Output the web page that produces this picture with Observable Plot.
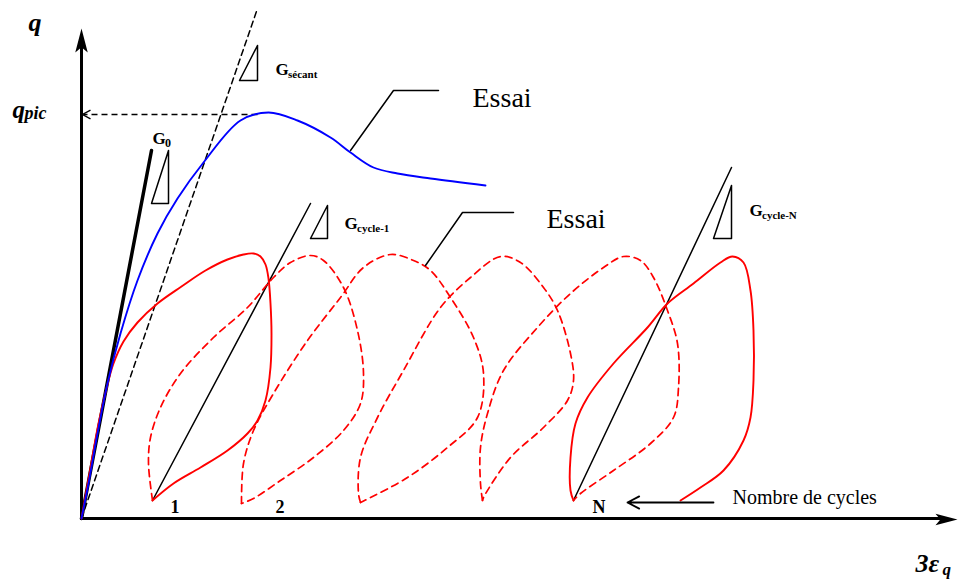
<!DOCTYPE html>
<html><head><meta charset="utf-8">
<script src="https://cdn.jsdelivr.net/npm/d3@7"></script>
<script src="https://cdn.jsdelivr.net/npm/@observablehq/plot@0.6"></script>
<style>body{margin:0;background:#fff} #chart svg{display:block}</style>
</head><body><div id="chart"></div>
<script>
// ---- data (x = 3·εq units, y = q units, origin at axes crossing) ----
const essaiMonotone = [[0,0],[7,35],[16,85],[26,135],[39,185],[56,238],[76,285],[96,320],[122,356],[159,398],[187,406],[216,398],[249,381],[269,366],[292,351],[316,345],[349,340],[404,333]];
const cycle1 = [[0,0],[8,45],[17,95],[25,130],[32,155],[42,177],[56,196],[76,215],[100,232],[124,248],[146,259],[162,264],[172,265],[179,262],[184,254],[187,240],[189,215],[190,185],[189,151],[184,118],[176,98],[166,85],[146,68],[119,51],[92,35],[71,18]];
const cycle2 = [[71,18],[67,55],[69,81],[79,111],[99,145],[132,181],[166,211],[192,241],[209,256],[229,263],[242,258],[262,231],[276,188],[282,145],[279,115],[262,88],[232,61],[199,38],[172,20],[160,15]];
const cycle3 = [[160,15],[162,55],[172,88],[192,125],[226,178],[259,221],[282,251],[309,264],[332,258],[349,248],[369,221],[392,181],[402,145],[396,101],[366,71],[326,41],[289,21],[279,16]];
const cycle4 = [[279,16],[277,25],[279,61],[296,101],[322,148],[359,211],[389,241],[419,262],[439,256],[462,231],[476,208],[489,165],[492,138],[486,118],[462,91],[429,61],[402,21],[401,18]];
const cycle5 = [[401,18],[399,35],[399,71],[406,105],[422,148],[456,191],[489,225],[522,251],[542,262],[559,258],[572,241],[586,208],[596,175],[597,131],[592,101],[569,75],[532,48],[499,25],[492,18]];
const cycleN = [[492,18],[489,28],[489,61],[494,95],[506,121],[532,155],[566,191],[586,215],[612,235],[639,256],[651,262],[662,256],[669,228],[672,188],[672,138],[669,101],[662,78],[642,48],[619,31],[599,18]];

const qPic = 404;
const lineG0 = [[0,0],[70,368]];
const lineSecant = [[0,0],[176,510]];
const lineCycle1 = [[71,18],[229,315]];
const lineCycleN = [[492,18],[650,351]];

const triG0 = [[87,368],[70,315],[87,315],[87,368]];
const triSecant = [[176,473],[158,438],[176,438],[176,473]];
const triCycle1 = [[246,313],[229,280],[246,280],[246,313]];
const triCycleN = [[650,333],[632,280],[650,280],[650,333]];

const leaderEssai1 = [[269,368],[312,428],[357,428]];
const leaderEssai2 = [[344,253],[381,306],[432,306]];
const essaiLabels = [{t:"Essai", x:391, y:412}, {t:"Essai", x:465, y:291}];

const gLabels = [
  {main:"G", sub:"0", x:71, y:375, fs:12},
  {main:"G", sub:"sécant", x:194, y:444, fs:11},
  {main:"G", sub:"cycle-1", x:263, y:290, fs:11},
  {main:"G", sub:"cycle-N", x:668, y:303, fs:11}
];
const cycleLabels = [{t:"1", x:89, y:6}, {t:"2", x:194, y:6}, {t:"N", x:511, y:6}];
const cyclesArrow = [{x1:632, x2:546, y:16}];
const cyclesText = [{t:"Nombre de cycles", x:651, y:15}];

const axisY = [[0,0],[0,476]];
const axisX = [[0,0],[862,0]];
const headY = [{x:0, y:490}];
const headX = [{x:876, y:-1}];

const X = d => d[0], Y = d => d[1];
const FONT = "'Liberation Serif','Times New Roman',serif";

const headStealth = {draw(ctx, size){const r=Math.sqrt(size/Math.PI); ctx.moveTo(0,0); ctx.lineTo(-0.26*r, r); ctx.lineTo(0,0.78*r); ctx.lineTo(0.26*r, r); ctx.closePath();}};
const headOpen = {draw(ctx, size){const r=Math.sqrt(size/Math.PI); ctx.moveTo(-0.55*r, r); ctx.lineTo(0,0); ctx.lineTo(0.55*r, r);}};

const red = "#ff0000", blue = "#0000ff";
const dashedRed = {stroke: red, strokeWidth: 1.7, strokeDasharray: "7,5", curve: "catmull-rom"};

const chart = Plot.plot({
  width: 959, height: 581,
  margin: 0,
  x: {domain: [-81, 878], range: [0, 959], axis: null},
  y: {domain: [-63, 518], range: [581, 0], axis: null},
  style: {fontFamily: FONT, background: "#fff"},
  marks: [
    // axes
    Plot.line(axisY, {x: X, y: Y, stroke: "black", strokeWidth: 3}),
    Plot.line(axisX, {x: X, y: Y, stroke: "black", strokeWidth: 3}),
    Plot.dot(headY, {x: "x", y: "y", r: 24, rotate: 0, symbol: headStealth, fill: "black", stroke: "none"}),
    Plot.dot(headX, {x: "x", y: "y", r: 22, rotate: 90, symbol: headStealth, fill: "black", stroke: "none"}),
    // q_pic dashed arrow
    Plot.link([{x1: 176, x2: 2, y: qPic}], {x1: "x1", x2: "x2", y1: "y", y2: "y", stroke: "black", strokeWidth: 1.4, strokeDasharray: "6,4"}),
    Plot.dot([{x: 1, y: qPic}], {x: "x", y: "y", r: 8, rotate: -90, symbol: headOpen, fill: "none", stroke: "black", strokeWidth: 1.4}),
    // stiffness lines
    Plot.line(lineSecant, {x: X, y: Y, stroke: "black", strokeWidth: 1.5, strokeDasharray: "6,4"}),
    Plot.line(lineG0, {x: X, y: Y, stroke: "black", strokeWidth: 3.5}),
    Plot.line(lineCycle1, {x: X, y: Y, stroke: "black", strokeWidth: 1.5}),
    Plot.line(lineCycleN, {x: X, y: Y, stroke: "black", strokeWidth: 1.5}),
    // triangles
    Plot.line(triG0, {x: X, y: Y, stroke: "black", strokeWidth: 1.5}),
    Plot.line(triSecant, {x: X, y: Y, stroke: "black", strokeWidth: 1.5}),
    Plot.line(triCycle1, {x: X, y: Y, stroke: "black", strokeWidth: 1.5}),
    Plot.line(triCycleN, {x: X, y: Y, stroke: "black", strokeWidth: 1.5}),
    // cycles
    Plot.line(cycle2, {x: X, y: Y, ...dashedRed}),
    Plot.line(cycle3, {x: X, y: Y, ...dashedRed}),
    Plot.line(cycle4, {x: X, y: Y, ...dashedRed}),
    Plot.line(cycle5, {x: X, y: Y, ...dashedRed}),
    Plot.line(cycle1, {x: X, y: Y, stroke: red, strokeWidth: 1.9, curve: "catmull-rom"}),
    Plot.line(cycleN, {x: X, y: Y, stroke: red, strokeWidth: 1.9, curve: "catmull-rom"}),
    // monotonic test
    Plot.line(essaiMonotone, {x: X, y: Y, stroke: blue, strokeWidth: 1.9, curve: "catmull-rom"}),
    // leaders
    Plot.line(leaderEssai1, {x: X, y: Y, stroke: "black", strokeWidth: 1.5}),
    Plot.line(leaderEssai2, {x: X, y: Y, stroke: "black", strokeWidth: 1.5}),
    Plot.text(essaiLabels, {x: "x", y: "y", text: "t", fontSize: 28, textAnchor: "start", lineAnchor: "bottom", fill: "black"}),
    // G labels
    Plot.text(gLabels, {x: "x", y: "y", text: "main", fontSize: 17, fontWeight: "bold", textAnchor: "start", lineAnchor: "bottom", fill: "black"}),
    Plot.text(gLabels, {x: "x", y: "y", text: "sub", fontSize: d => d.fs, fontWeight: "bold", textAnchor: "start", lineAnchor: "bottom", dx: 12.5, dy: 3, fill: "black"}),
    // cycle numbers
    Plot.text(cycleLabels, {x: "x", y: "y", text: "t", fontSize: 18, fontWeight: "bold", textAnchor: "start", lineAnchor: "bottom", fill: "black"}),
    Plot.arrow(cyclesArrow, {x1: "x1", x2: "x2", y1: "y", y2: "y", stroke: "black", strokeWidth: 1.8, headLength: 11, headAngle: 55}),
    Plot.text(cyclesText, {x: "x", y: "y", text: "t", fontSize: 20, textAnchor: "start", lineAnchor: "bottom", fill: "black"}),
    // axis titles
    Plot.text([{t: "q", x: -53, y: 488}], {x: "x", y: "y", text: "t", fontSize: 26, fontWeight: "bold", fontStyle: "italic", textAnchor: "start", lineAnchor: "bottom", fill: "black"}),
    Plot.text([{t: "q", x: -69, y: 401}], {x: "x", y: "y", text: "t", fontSize: 25, fontWeight: "bold", fontStyle: "italic", textAnchor: "start", lineAnchor: "bottom", fill: "black"}),
    Plot.text([{t: "pic", x: -69, y: 401}], {x: "x", y: "y", text: "t", fontSize: 18, fontWeight: "bold", fontStyle: "italic", textAnchor: "start", lineAnchor: "bottom", dx: 12, dy: 1, fill: "black"}),
    Plot.text([{t: "3ε", x: 834, y: -53}], {x: "x", y: "y", text: "t", fontSize: 26, fontWeight: "bold", fontStyle: "italic", textAnchor: "start", lineAnchor: "bottom", fill: "black"}),
    Plot.text([{t: "q", x: 834, y: -53}], {x: "x", y: "y", text: "t", fontSize: 17, fontWeight: "bold", fontStyle: "italic", textAnchor: "start", lineAnchor: "bottom", dx: 27, dy: 3, fill: "black"})
  ]
});
document.getElementById("chart").appendChild(chart);
</script>
</body></html>
